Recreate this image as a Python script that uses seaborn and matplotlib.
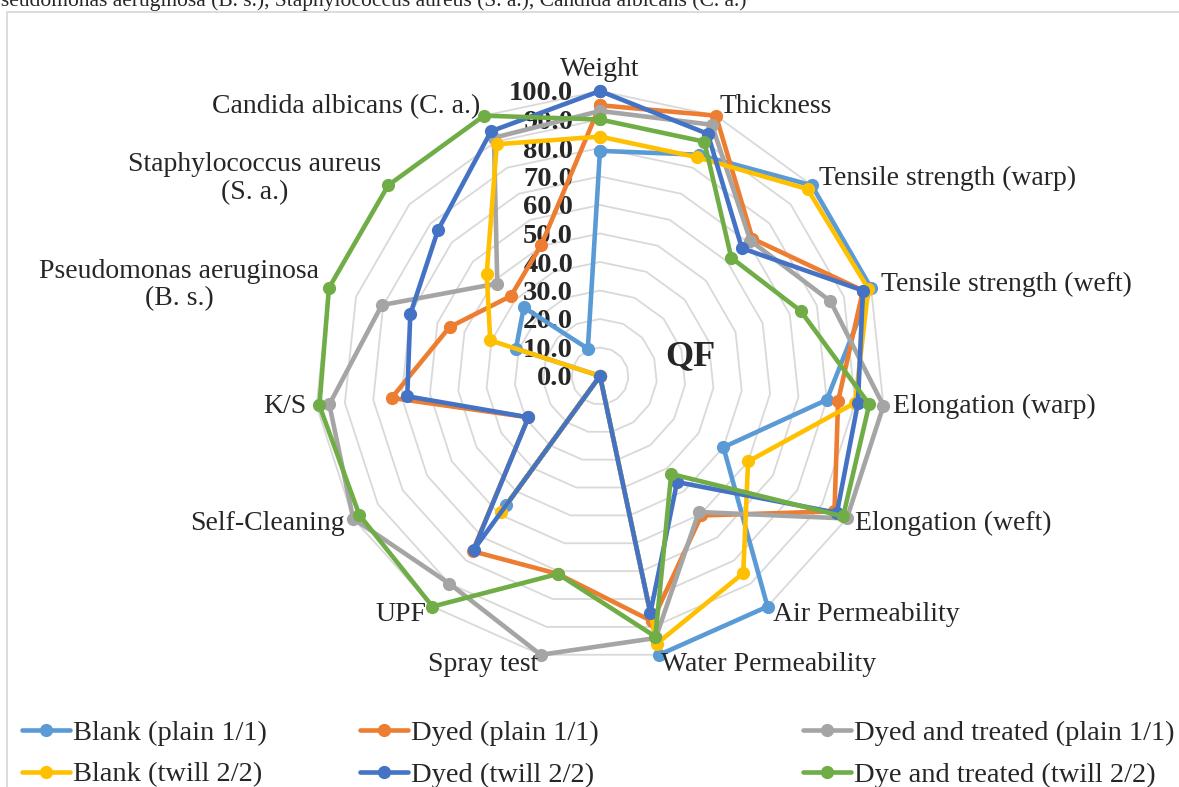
import numpy as np
import pandas as pd
import matplotlib
matplotlib.use('Agg')
import matplotlib.pyplot as plt
import matplotlib.transforms as mtransforms
from matplotlib.patches import Rectangle
import seaborn as sns

# Radar chart data
categories = ['Weight', 'Thickness', 'Tensile strength (warp)', 'Tensile strength (weft)',
              'Elongation (warp)', 'Elongation (weft)', 'Air Permeability', 'Water Permeability',
              'Spray test', 'UPF', 'Self-Cleaning', 'K/S',
              'Pseudomonas aeruginosa\n(B. s.)', 'Staphylococcus aureus\n(S. a.)',
              'Candida albicans (C. a.)']

series_names = ['Blank (plain 1/1)', 'Dyed (plain 1/1)', 'Dyed and treated (plain 1/1)',
                'Blank (twill 2/2)', 'Dyed (twill 2/2)', 'Dye and treated (twill 2/2)']

blank_plain = [79, 85, 100, 100, 80, 50, 100, 100, 0, 56, 0, 0, 31, 36, 10.5]
dyed_plain = [95, 100, 72, 97, 84, 95, 60.5, 88, 71, 76, 29, 73.5, 55.5, 42, 50.5]
treated_plain = [93, 96.5, 71, 85, 100, 100, 59, 94, 100, 90, 100, 95.5, 80.5, 48.5, 91.5]
blank_twill = [84, 84, 98, 99, 90, 60, 85.5, 96, 0, 59, 0, 0, 40.5, 53.5, 89]
dyed_twill = [100, 93, 67, 97, 91, 96, 46, 85, 0, 75.5, 29, 68, 70, 76.5, 94]
treated_twill = [90, 90, 62, 74, 95, 98.5, 42.5, 93.5, 71, 100, 97.5, 99, 100, 100, 100]

tick_values = [0, 10, 20, 30, 40, 50, 60, 70, 80, 90, 100]
colors = ['#5B9BD5', '#ED7D31', '#A5A5A5', '#FFC000', '#4472C4', '#70AD47']

sns.set_style('white')
plt.rcParams['font.family'] = ['Liberation Serif', 'DejaVu Serif']

# long-format table, each series closed back to the first axis
n = len(categories)
theta = np.linspace(0, 2 * np.pi, n, endpoint=False)
theta_closed = np.append(theta, 2 * np.pi)
rows = []
for name, vals in zip(series_names, [blank_plain, dyed_plain, treated_plain,
                                     blank_twill, dyed_twill, treated_twill]):
    for t, v in zip(theta_closed, vals + [vals[0]]):
        rows.append({'theta': t, 'value': v, 'series': name})
df = pd.DataFrame(rows)

W, H = 1179, 787
fig = plt.figure(figsize=(W / 100, H / 100), dpi=100)

# chart area border (light gray), cut off at right/bottom
fig.add_artist(Rectangle((7 / W, -0.1), 1.2, 1.1 - 12 / H, transform=fig.transFigure,
                         fill=False, edgecolor='#D9D9D9', linewidth=1.3))

# truncated title text at the very top
fig.text(-11 / W, 1 - 6 / H,
         'Pseudomonas aeruginosa (B. s.), Staphylococcus aureus (S. a.), Candida albicans (C. a.)',
         ha='left', va='baseline', fontsize=15.5)

cx, cy, R = 600, 376, 285
ax = fig.add_axes([(cx - R) / W, (H - cy - R) / H, 2 * R / W, 2 * R / H], projection='polar')
ax.set_theta_zero_location('N')
ax.set_theta_direction(-1)
ax.patch.set_alpha(0)

# polygon gridlines
for lv in tick_values[1:]:
    ax.plot(theta_closed, [lv] * (n + 1), color='#D9D9D9', lw=1.3, zorder=1)

sns.lineplot(data=df, x='theta', y='value', hue='series', hue_order=series_names,
             palette=colors, sort=False, estimator=None, marker='o', markersize=9.5,
             markeredgewidth=0, linewidth=3.3, clip_on=False, legend=False, ax=ax, zorder=3)

ax.set_ylim(0, 100)
ax.set_xticks([])
ax.set_yticks([])
ax.grid(False)
ax.spines['polar'].set_visible(False)
ax.set_xlabel('')
ax.set_ylabel('')

# category labels
for t, lab in zip(theta, categories):
    s = np.sin(t)
    if abs(s) < 0.1:
        ax.text(t, 103, lab, ha='center', va='bottom', fontsize=20)
    else:
        ax.text(t, 103.5, lab, ha='left' if s > 0 else 'right', va='center',
                multialignment='center', fontsize=20, linespacing=1.12)

# radial tick labels, left of the Weight axis
off = mtransforms.offset_copy(ax.transData, fig=fig, x=-27, y=-3, units='dots')
for v in tick_values:
    ax.text(0, v, f'{v:.1f}', transform=off, ha='right', va='center',
            fontsize=20.5, fontweight='bold', zorder=2)

fig.text(690 / W, 1 - 357 / H, 'QF', ha='center', va='center', fontsize=26, fontweight='bold')

# legend: three columns, two rows
handles = ax.lines[-6:]
col_x = [22, 360, 803]
for i, x in enumerate(col_x):
    fig.legend([handles[i], handles[i + 3]], [series_names[i], series_names[i + 3]],
               loc='upper left', bbox_to_anchor=(x / W, 1 - 720 / H),
               frameon=False, fontsize=20.5, handlelength=1.7, handletextpad=0.1,
               borderpad=0, borderaxespad=0, labelspacing=0.55)

fig.savefig('out.png', dpi=100)
